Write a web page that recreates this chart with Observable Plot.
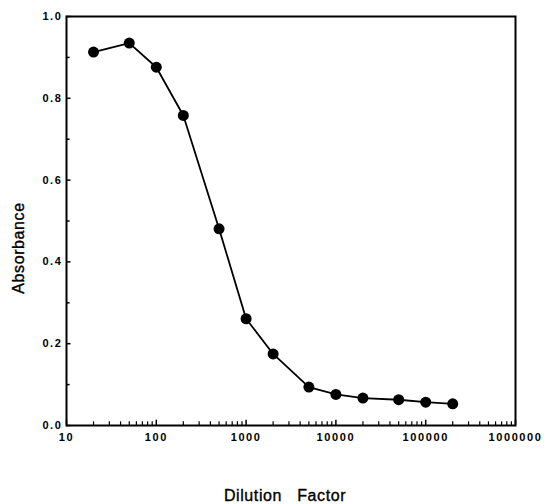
<!DOCTYPE html>
<html>
<head>
<meta charset="utf-8">
<script src="https://cdn.jsdelivr.net/npm/d3@7"></script>
<script src="https://cdn.jsdelivr.net/npm/@observablehq/plot@0.6"></script>
<style>
  body { margin: 0; background: #fff; }
  svg { font-family: "Liberation Sans", Arial, sans-serif; }
</style>
</head>
<body>
<div id="chart"></div>
<script>
const dilution = [20, 50, 100, 200, 500, 1000, 2000, 5000, 10000, 20000, 50000, 100000, 200000];
const absorbance = [0.913, 0.935, 0.876, 0.758, 0.481, 0.261, 0.175, 0.094, 0.076, 0.067, 0.063, 0.057, 0.053];
const xTickLabels = [10, 100, 1000, 10000, 100000, 1000000];
const yTickLabels = [0.0, 0.2, 0.4, 0.6, 0.8, 1.0];
const yMinorTicks = [0.1, 0.3, 0.5, 0.7, 0.9];
const xLabel = "Dilution\u00a0\u00a0 Factor";
const yLabel = "Absorbance";

const data = dilution.map((d, i) => ({dilution: d, absorbance: absorbance[i]}));
const xMinor = [];
for (let e = 1; e < 6; e++) for (let m = 2; m <= 9; m++) xMinor.push(m * 10 ** e);

const chart = Plot.plot({
  width: 546,
  height: 504,
  marginLeft: 66,
  marginRight: 31,
  marginTop: 16,
  marginBottom: 79,
  style: {fontFamily: "Liberation Sans, Arial, sans-serif", background: "#fff"},
  x: {type: "log", domain: [10, 1000000]},
  y: {domain: [0, 1]},
  marks: [
    Plot.axisX({ticks: xTickLabels, tickSize: 0, tickPadding: 8, tickFormat: d => String(d), label: null, fill: "#000"}),
    Plot.axisY({ticks: yTickLabels, tickSize: 0, tickPadding: 4, tickFormat: d3.format(".1f"), label: null, fill: "#000"}),
    Plot.ruleX(xMinor, {x: d => d, y1: 0, y2: 0.009, stroke: "#000", strokeWidth: 1.2}),
    Plot.ruleX(xTickLabels, {x: d => d, y1: 0, y2: 0.013, stroke: "#000", strokeWidth: 1.5}),
    Plot.ruleY(yMinorTicks, {y: d => d, x1: 10, x2: 10 ** 1.04, stroke: "#000", strokeWidth: 1.5}),
    Plot.ruleY(yTickLabels, {y: d => d, x1: 10, x2: 10 ** 1.05, stroke: "#000", strokeWidth: 1.5}),
    Plot.frame({stroke: "#000", strokeWidth: 2}),
    Plot.line(data, {x: "dilution", y: "absorbance", stroke: "#000", strokeWidth: 1.8}),
    Plot.dot(data, {x: "dilution", y: "absorbance", r: 5.5, fill: "#000", stroke: "none"}),
    Plot.text([yLabel], {frameAnchor: "left", textAnchor: "middle", lineAnchor: "middle", rotate: -90, dx: -48, dy: 27, fontSize: 16, fill: "#000", stroke: "#000", strokeWidth: 0.35}),
    Plot.text([xLabel], {frameAnchor: "bottom", textAnchor: "middle", lineAnchor: "middle", dx: -6, dy: 70, fontSize: 16, fill: "#000", stroke: "#000", strokeWidth: 0.35})
  ]
});

chart.querySelectorAll('g[aria-label="x-axis tick label"], g[aria-label="y-axis tick label"]').forEach(g => {
  g.setAttribute("font-size", "11");
  g.setAttribute("font-weight", "bold");
  g.setAttribute("letter-spacing", "1.6");
  g.style.fontSize = "11px";
  g.style.fontWeight = "bold";
  g.style.letterSpacing = "1.6px";
});
chart.querySelectorAll('g[aria-label="text"] text').forEach(t => t.setAttribute("letter-spacing", "0.6"));
document.getElementById("chart").appendChild(chart);
</script>
</body>
</html>
